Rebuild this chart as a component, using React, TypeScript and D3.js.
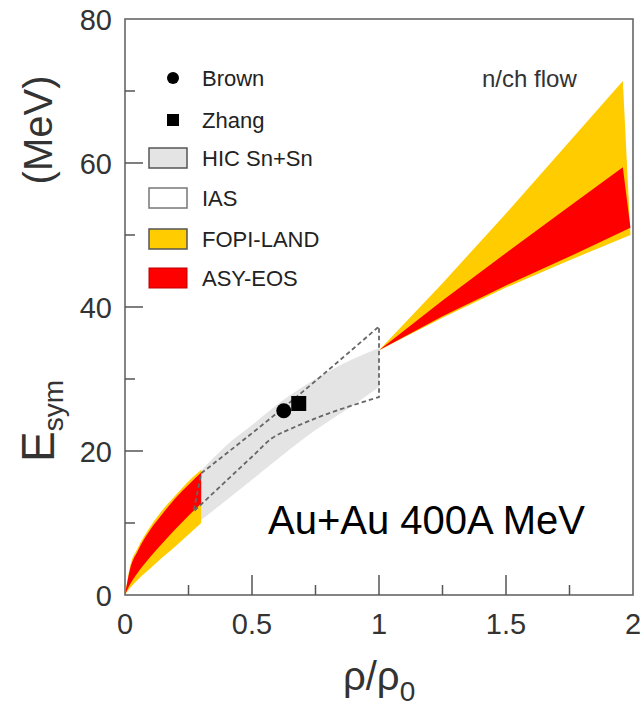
import React from "react";
import * as d3 from "d3";

// ---- data ----
const rhoLow = [0, 0.02, 0.05, 0.1, 0.15, 0.2, 0.25, 0.3];
const fopiLowUpper = [0, 4.0, 6.5, 9.5, 11.9, 13.9, 15.8, 17.4];
const fopiLowLower = [0, 1.0, 2.1, 3.7, 5.3, 6.8, 8.4, 10.0];
const asyLowUpper = [0, 3.6, 6.1, 9.1, 11.4, 13.5, 15.3, 17.0];
const asyLowLower = [0, 1.5, 3.1, 5.3, 7.3, 9.2, 11.0, 12.7];

const rhoHighTop = [1, 1.25, 1.5, 1.75, 1.96];
const rhoHighBottom = [1, 1.25, 1.5, 1.75, 1.99];
const fopiHighUpper = [34, 43.3, 53.0, 63.0, 71.4];
const fopiHighLower = [34, 38.5, 42.7, 46.5, 50.0];
const asyHighUpper = [34, 40.9, 47.5, 54.0, 59.4];
const asyHighLower = [34, 38.7, 43.0, 47.0, 51.0];

const rhoHic = [0.3, 0.4, 0.5, 0.62, 0.75, 0.9, 1.0];
const hicUpper = [17.3, 20.8, 23.6, 27.0, 30.0, 32.8, 34.3];
const hicLower = [10.4, 13.2, 16.0, 19.4, 22.9, 26.4, 28.9];

const iasRhoUpper = [0.3, 0.62, 1.0];
const iasUpper = [16.9, 25.9, 37.3];
const iasRhoLower = [0.27, 0.4, 0.5, 0.58, 0.66, 0.8, 1.0];
const iasLower = [11.6, 15.9, 19.2, 21.8, 23.2, 25.2, 27.5];

const brownPoint = { rho: 0.625, e: 25.6 };
const zhangPoint = { rho: 0.684, e: 26.6 };

const xTickValues = [0, 0.5, 1, 1.5, 2];
const xTickLabels = ["0", "0.5", "1", "1.5", "2"];
const xMinorTicks = [0.25, 0.75, 1.25, 1.75];
const xMajorInner = [0.5, 1, 1.5];
const yTickValues = [0, 20, 40, 60, 80];
const yTickLabels = ["0", "20", "40", "60", "80"];
const yMinorTicks = [10, 30, 50, 70];
const yMajorInner = [20, 40, 60];

const legendLabels = ["Brown", "Zhang", "HIC Sn+Sn", "IAS", "FOPI-LAND", "ASY-EOS"];

const FONT = "'Liberation Sans', Arial, Helvetica, sans-serif";
const YELLOW = "#FFCC00";
const RED = "#FF0000";
const GRAY = "#E4E4E4";

export default function App() {
  const x = d3.scaleLinear().domain([0, 2]).range([125, 633]);
  const y = d3.scaleLinear().domain([0, 80]).range([595, 19]);

  const mk = (xs: number[], ys: number[]) => xs.map((v, i) => [x(v), y(ys[i])] as [number, number]);

  const lineCurve = d3.line<[number, number]>().curve(d3.curveMonotoneX);
  const lineCurveRev = d3.line<[number, number]>().curve(d3.curveCatmullRom.alpha(0.5));
  const lineLin = d3.line<[number, number]>();

  const band = (xt: number[], top: number[], xb: number[], bot: number[], curved = true) => {
    const t = mk(xt, top);
    const b = mk(xb, bot).reverse();
    const p1 = (curved ? lineCurve : lineLin)(t) || "";
    const p2 = (curved ? lineCurveRev : lineLin)(b) || "";
    return p1 + "L" + p2.slice(1) + "Z";
  };

  const hicPath = band(rhoHic, hicUpper, rhoHic, hicLower);
  const fopiLow = band(rhoLow, fopiLowUpper, rhoLow, fopiLowLower);
  const asyLow = band(rhoLow, asyLowUpper, rhoLow, asyLowLower);
  const fopiHigh = band(rhoHighTop, fopiHighUpper, rhoHighBottom, fopiHighLower, false);
  const asyHigh = band(rhoHighTop, asyHighUpper, rhoHighBottom, asyHighLower, false);
  const iasPath = band(iasRhoUpper, iasUpper, iasRhoLower, iasLower);

  const sq = 15;

  const legendY = [78, 120, 158, 198, 239, 278];

  return (
    <svg
      width={644}
      height={718}
      style={{ position: "absolute", left: 0, top: 0, background: "#fff" }}
      fontFamily={FONT}
    >
      <rect x={0} y={0} width={644} height={718} fill="#fff" />
      {/* bands */}
      <path d={hicPath} fill={GRAY} stroke="none" />
      <path d={fopiLow} fill={YELLOW} />
      <path d={asyLow} fill={RED} />
      <path d={fopiHigh} fill={YELLOW} />
      <path d={asyHigh} fill={RED} />
      <path d={iasPath} fill="none" stroke="#666" strokeWidth={1.8} strokeDasharray="4.5,3" />

      {/* points */}
      <circle cx={x(brownPoint.rho)} cy={y(brownPoint.e)} r={7.5} fill="#000" />
      <rect
        x={x(zhangPoint.rho) - sq / 2}
        y={y(zhangPoint.e) - sq / 2}
        width={sq}
        height={sq}
        fill="#000"
      />

      {/* frame */}
      <rect x={x(0)} y={y(80)} width={x(2) - x(0)} height={y(0) - y(80)} fill="none" stroke="#666" strokeWidth={1.6} />

      {/* ticks */}
      {xMajorInner.map((v) => (
        <line key={"xm" + v} x1={x(v)} x2={x(v)} y1={y(0)} y2={y(0) - 20} stroke="#555" strokeWidth={1.5} />
      ))}
      {xMinorTicks.map((v) => (
        <line key={"xn" + v} x1={x(v)} x2={x(v)} y1={y(0)} y2={y(0) - 10} stroke="#555" strokeWidth={1.5} />
      ))}
      {yMajorInner.map((v) => (
        <line key={"ym" + v} x1={x(0)} x2={x(0) + 18} y1={y(v)} y2={y(v)} stroke="#555" strokeWidth={1.5} />
      ))}
      {yMinorTicks.map((v) => (
        <line key={"yn" + v} x1={x(0)} x2={x(0) + 10} y1={y(v)} y2={y(v)} stroke="#555" strokeWidth={1.5} />
      ))}

      {/* tick labels */}
      {xTickValues.map((v, i) => (
        <text key={"xl" + v} x={x(v)} y={634} fontSize={29} textAnchor="middle" fill="#333">
          {xTickLabels[i]}
        </text>
      ))}
      {yTickValues.map((v, i) => (
        <text key={"yl" + v} x={112} y={y(v) + 10.5} fontSize={29} textAnchor="end" fill="#333">
          {yTickLabels[i]}
        </text>
      ))}

      {/* axis titles */}
      <text transform="translate(52,130) rotate(-90)" fontSize={40} textAnchor="middle" fill="#333">
        (MeV)
      </text>
      <text transform="translate(54,462) rotate(-90)" fontSize={46} fill="#333">
        E
        <tspan fontSize={28} dy={9}>sym</tspan>
      </text>
      <text x={343} y={690} fontSize={40} fill="#333">
        ρ/ρ
        <tspan fontSize={28} dy={11}>0</tspan>
      </text>

      {/* annotations */}
      <text x={482} y={87} fontSize={24} fill="#333">n/ch flow</text>
      <text x={268} y={534} fontSize={40} fill="#000">Au+Au 400A MeV</text>

      {/* legend */}
      <circle cx={173} cy={legendY[0]} r={6} fill="#000" />
      <rect x={167} y={legendY[1] - 6} width={12} height={12} fill="#000" />
      <rect x={149} y={legendY[2] - 10} width={38} height={20} fill={GRAY} stroke="#555" strokeWidth={1.5} />
      <rect x={149} y={legendY[3] - 10} width={38} height={20} fill="#fff" stroke="#777" strokeWidth={1.5} />
      <rect x={149} y={legendY[4] - 10} width={38} height={20} fill={YELLOW} stroke="#555" strokeWidth={1.5} />
      <rect x={149} y={legendY[5] - 10} width={38} height={20} fill={RED} stroke="#b00" strokeWidth={1} />
      {legendLabels.map((t, i) => (
        <text key={t} x={202} y={legendY[i] + 8} fontSize={22} fill="#222">
          {t}
        </text>
      ))}
    </svg>
  );
}
